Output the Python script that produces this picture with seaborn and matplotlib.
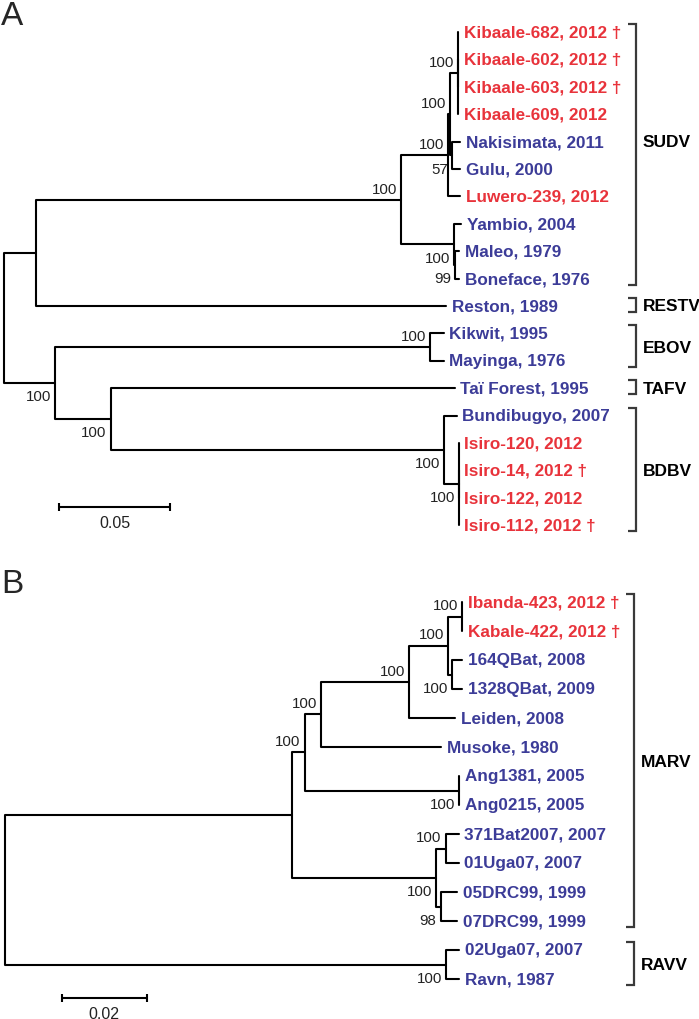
import matplotlib
matplotlib.use("Agg")
import matplotlib.pyplot as plt
import seaborn as sns
import pandas as pd

# ---------------- Panel A : ebolaviruses ----------------
A_nodes = ["SR", "SUDV_n", "A1", "A2", "KIB",
           "Kibaale-682, 2012 †", "Kibaale-602, 2012 †", "Kibaale-603, 2012 †", "Kibaale-609, 2012",
           "NG", "Nakisimata, 2011", "Gulu, 2000",
           "Luwero-239, 2012",
           "Y1", "Yambio, 2004", "MB", "Maleo, 1979", "Boneface, 1976",
           "Reston, 1989",
           "E", "EBOV_n", "Kikwit, 1995", "Mayinga, 1976",
           "TB", "Taï Forest, 1995",
           "BDBV_n", "Bundibugyo, 2007", "ISIRO",
           "Isiro-120, 2012", "Isiro-14, 2012 †", "Isiro-122, 2012", "Isiro-112, 2012 †"]
A_parents = ["rootA", "SR", "SUDV_n", "A1", "A2",
             "KIB", "KIB", "KIB", "KIB",
             "A2", "NG", "NG",
             "A1",
             "SUDV_n", "Y1", "Y1", "MB", "MB",
             "SR",
             "rootA", "E", "EBOV_n", "EBOV_n",
             "E", "TB",
             "TB", "BDBV_n", "BDBV_n",
             "ISIRO", "ISIRO", "ISIRO", "ISIRO"]
A_lengths = [0.0145, 0.1645, 0.0212, 0.0009, 0.0036,
             0.0, 0.0, 0.0, 0.0,
             0.0009, 0.0036, 0.0036,
             0.0054,
             0.0239, 0.0032, 0.0005, 0.0018, 0.0018,
             0.1848,
             0.0232, 0.1689, 0.0061, 0.0061,
             0.0250, 0.1551,
             0.1504, 0.0056, 0.0065,
             0.0, 0.0, 0.0, 0.0]
A_support = [None, 100, 100, 100, 100,
             None, None, None, None,
             57, None, None,
             None,
             100, None, 99, None, None,
             None,
             100, 100, None, None,
             100, None,
             100, None, 100,
             None, None, None, None]
A_clades = ["SUDV", "RESTV", "EBOV", "TAFV", "BDBV"]
A_clade_first = ["Kibaale-682, 2012 †", "Reston, 1989", "Kikwit, 1995", "Taï Forest, 1995", "Bundibugyo, 2007"]
A_clade_last = ["Boneface, 1976", "Reston, 1989", "Mayinga, 1976", "Taï Forest, 1995", "Isiro-112, 2012 †"]
A_scale = 0.05

# ---------------- Panel B : marburgviruses ----------------
B_nodes = ["MARV_n", "U1", "U2", "U3", "U4", "IK",
           "Ibanda-423, 2012 †", "Kabale-422, 2012 †",
           "QB", "164QBat, 2008", "1328QBat, 2009",
           "Leiden, 2008", "Musoke, 1980",
           "ANG", "Ang1381, 2005", "Ang0215, 2005",
           "L1", "L2", "371Bat2007, 2007", "01Uga07, 2007",
           "L3", "05DRC99, 1999", "07DRC99, 1999",
           "RAVV_n", "02Uga07, 2007", "Ravn, 1987"]
B_parents = ["rootB", "MARV_n", "U1", "U2", "U3", "U4",
             "IK", "IK",
             "U4", "QB", "QB",
             "U3", "U2",
             "U1", "ANG", "ANG",
             "MARV_n", "L1", "L2", "L2",
             "L1", "L3", "L3",
             "rootB", "RAVV_n", "RAVV_n"]
B_lengths = [0.0672, 0.0029, 0.0039, 0.0206, 0.0091, 0.0032,
             0.0, 0.0,
             0.0009, 0.0023, 0.0023,
             0.0107, 0.0280,
             0.0361, 0.0, 0.0,
             0.0336, 0.0023, 0.0030, 0.0030,
             0.0011, 0.0039, 0.0039,
             0.1032, 0.0030, 0.0030]
B_support = [None, 100, 100, 100, 100, 100,
             None, None,
             100, None, None,
             None, None,
             100, None, None,
             100, 100, None, None,
             98, None, None,
             100, None, None]
B_clades = ["MARV", "RAVV"]
B_clade_first = ["Ibanda-423, 2012 †", "02Uga07, 2007"]
B_clade_last = ["07DRC99, 1999", "Ravn, 1987"]
B_scale = 0.02

# isolates from the 2012 outbreaks (highlighted in red)
new_isolates = ["Kibaale-682, 2012 †", "Kibaale-602, 2012 †", "Kibaale-603, 2012 †", "Kibaale-609, 2012",
                "Luwero-239, 2012", "Isiro-120, 2012", "Isiro-14, 2012 †", "Isiro-122, 2012",
                "Isiro-112, 2012 †", "Ibanda-423, 2012 †", "Kabale-422, 2012 †"]

# ---------------- styling / layout ----------------
RED = "#e8333b"
BLUE = "#3c3c98"
BRACKET = "#3a3a3a"
below_labels = {"NG", "Y1", "MB", "E", "TB", "BDBV_n", "ISIRO", "QB", "ANG", "L1", "L3", "RAVV_n"}
clade_label_row = {"SUDV": 4}

sns.set_theme(style="white")
plt.rcParams["font.family"] = ["Liberation Sans", "DejaVu Sans"]

W, H = 699, 1020
fig = plt.figure(figsize=(W / 100, H / 100), dpi=100)


def layout(nodes, parents, lengths):
    children = {}
    for n, p in zip(nodes, parents):
        children.setdefault(p, []).append(n)
    root = [p for p in parents if p not in nodes][0]
    x = {root: 0.0}
    for n, p, l in zip(nodes, parents, lengths):
        x[n] = x[p] + l
    tips = [n for n in nodes if n not in children]
    y = {t: float(i) for i, t in enumerate(tips)}

    def gety(n):
        if n not in y:
            ys = [gety(c) for c in children[n]]
            y[n] = (ys[0] + ys[-1]) / 2
        return y[n]

    gety(root)
    return x, y, tips


def draw_panel(ax, nodes, parents, lengths, support, clades, cfirst, clast, scale,
               px_per_unit, root_px, row0_px, row_px, top_px, bot_px,
               bracket_px, scale_start_px, scale_y_px):
    x, y, tips = layout(nodes, parents, lengths)
    rows = []
    for n, p in zip(nodes, parents):
        rows += [(n, 0, x[p], y[p]), (n, 1, x[p], y[n]), (n, 2, x[n], y[n])]
    df = pd.DataFrame(rows, columns=["seg", "k", "x", "y"])
    sns.lineplot(data=df, x="x", y="y", units="seg", estimator=None, sort=False,
                 color="black", linewidth=1.5, ax=ax, legend=False)

    ax.set_xlim(-root_px / px_per_unit, (W - root_px) / px_per_unit)
    ax.set_ylim((bot_px - row0_px) / row_px, (top_px - row0_px) / row_px)
    ax.set_axis_off()

    # tip labels
    for t in tips:
        ax.annotate(t, (x[t], y[t]), xytext=(4.0, 0), textcoords="offset points",
                    ha="left", va="center", fontsize=12.3, fontweight="bold",
                    color=RED if t in new_isolates else BLUE)
    # support values
    for n, s in zip(nodes, support):
        if s is None:
            continue
        dy = -9.6 if n in below_labels else 8.0
        ax.annotate(str(s), (x[n], y[n]), xytext=(-3.0, dy), textcoords="offset points",
                    ha="right", va="center", fontsize=10.8, color="#222222")
    # clade brackets
    bx = (bracket_px - root_px) / px_per_unit
    tick = 8 / px_per_unit
    for name, f, l in zip(clades, cfirst, clast):
        y0 = y[f] - 8 / row_px
        y1 = y[l] + 6 / row_px
        ax.plot([bx - tick, bx, bx, bx - tick], [y0, y0, y1, y1], color=BRACKET,
                lw=1.6, solid_joinstyle="miter", solid_capstyle="butt")
        ly = clade_label_row.get(name, (y[f] + y[l]) / 2)
        ax.annotate(name, (bx, ly), xytext=(5.0, 0), textcoords="offset points",
                    ha="left", va="center", fontsize=12.5, fontweight="bold", color="black")
    # scale bar
    sx0 = (scale_start_px - root_px) / px_per_unit
    sy = (scale_y_px - row0_px) / row_px
    th = 4 / row_px
    ax.plot([sx0, sx0 + scale], [sy, sy], color="black", lw=1.5, solid_capstyle="butt")
    for xx in (sx0, sx0 + scale):
        ax.plot([xx, xx], [sy - th, sy + th], color="black", lw=1.5, solid_capstyle="butt")
    ax.annotate(f"{scale:g}", (sx0 + scale / 2, sy), xytext=(0, -11), textcoords="offset points",
                ha="center", va="center", fontsize=11.5, color="#222222")


axA = fig.add_axes([0, (H - 560) / H, 1, 560 / H])
draw_panel(axA, A_nodes, A_parents, A_lengths, A_support, A_clades, A_clade_first, A_clade_last,
           A_scale, px_per_unit=2220, root_px=3.6, row0_px=33, row_px=27.4,
           top_px=0, bot_px=560, bracket_px=636, scale_start_px=59.3, scale_y_px=508)

axB = fig.add_axes([0, 0, 1, 460 / H])
draw_panel(axB, B_nodes, B_parents, B_lengths, B_support, B_clades, B_clade_first, B_clade_last,
           B_scale, px_per_unit=4280, root_px=4.5, row0_px=603, row_px=29.0,
           top_px=560, bot_px=1020, bracket_px=634, scale_start_px=61.5, scale_y_px=999)

fig.text(1 / W, 1 - 1 / H, "A", fontsize=24, ha="left", va="top")
fig.text(1 / W, 1 - 569 / H, "B", fontsize=24, ha="left", va="top")

fig.savefig("out.png", dpi=100)
